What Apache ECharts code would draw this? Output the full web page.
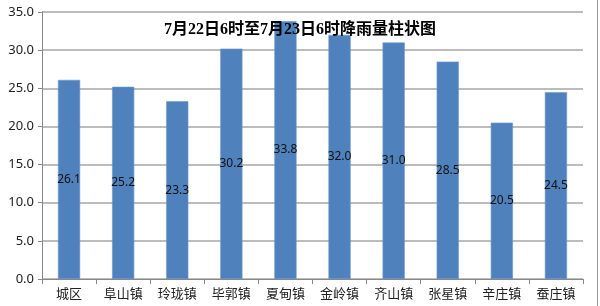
<!DOCTYPE html>
<html><head><meta charset="utf-8">
<script src="https://cdn.jsdelivr.net/npm/echarts@6/dist/echarts.min.js"></script>
<style>html,body{margin:0;padding:0;background:#fff}#c{width:600px;height:306px}</style>
</head><body><div id="c"></div>
<script>
var titleText = '7月22日6时至7月23日6时降雨量柱状图';
var categories = ['城区','阜山镇','玲珑镇','毕郭镇','夏甸镇','金岭镇','齐山镇','张星镇','辛庄镇','蚕庄镇'];
var rainfall = [26.1, 25.2, 23.3, 30.2, 33.8, 32.0, 31.0, 28.5, 20.5, 24.5];
var yMin = 0, yMax = 35, yStep = 5;

var chart = echarts.init(document.getElementById('c'));
chart.setOption({
  animation: false,
  title: {
    text: titleText, left: 'center', top: 17,
    textStyle: {fontFamily: 'Liberation Serif, "Noto Sans CJK SC"', fontWeight: 'bold', fontSize: 16, color: '#000'}
  },
  grid: {left: 42, right: 17, top: 12, bottom: 27},
  xAxis: {
    type: 'category', data: categories,
    axisLine: {lineStyle: {color: '#888', width: 1}},
    axisTick: {show: true, length: 5, lineStyle: {color: '#888'}},
    axisLabel: {color: '#222', fontSize: 13, fontFamily: '"Noto Sans CJK SC"', margin: 8}
  },
  yAxis: {
    type: 'value', min: yMin, max: yMax, interval: yStep,
    axisLine: {show: true, lineStyle: {color: '#888', width: 1}},
    axisTick: {show: true, length: 4, lineStyle: {color: '#888'}},
    splitLine: {lineStyle: {color: '#a6a6a6', width: 1.5}},
    axisLabel: {color: '#222', fontSize: 13, fontFamily: '"Noto Sans"', margin: 8,
      formatter: function (v) { return v.toFixed(1); }}
  },
  series: [{
    type: 'bar', data: rainfall, barCategoryGap: '59%',
    itemStyle: {color: '#4f81bd', borderColor: '#6f98cc', borderWidth: 0.6},
    label: {show: true, position: 'inside', color: '#111', fontSize: 12, fontFamily: '"Noto Sans"',
      formatter: function (p) { return p.value.toFixed(1); }}
  }],
  graphic: [{type: 'line', shape: {x1: 597.5, y1: 0, x2: 597.5, y2: 306}, style: {stroke: '#999', lineWidth: 1}}]
});
</script></body></html>
